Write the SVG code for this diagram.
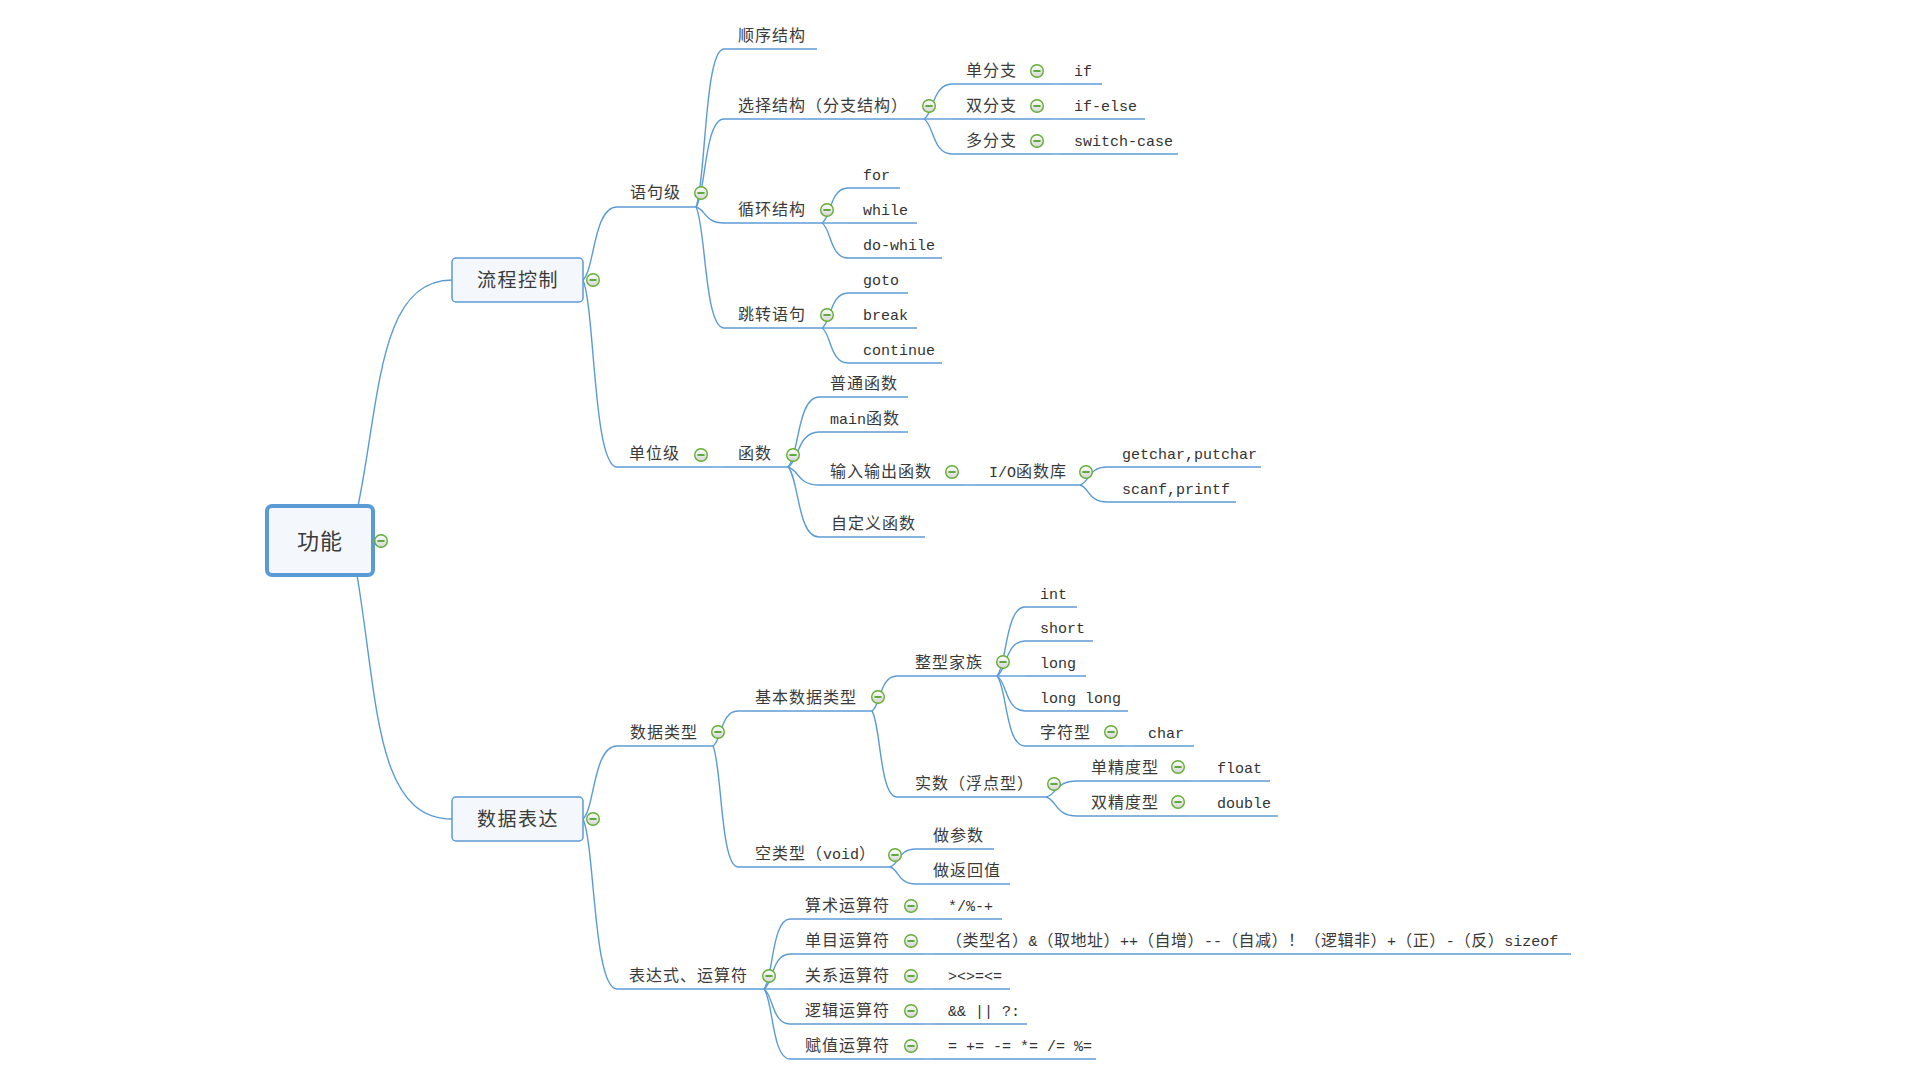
<svg xmlns="http://www.w3.org/2000/svg" xmlns:xlink="http://www.w3.org/1999/xlink" width="1920" height="1080" viewBox="0 0 1920 1080">
<style>
.t{font-family:"Noto Sans CJK SC","Noto Sans",sans-serif;font-size:16px;letter-spacing:1px;fill:#3a3a3a}
.m{font-family:"Liberation Mono","DejaVu Sans Mono",monospace;font-size:15px;letter-spacing:0px;fill:#333333}
.bt{font-family:"Noto Sans CJK SC",sans-serif;font-size:19px;letter-spacing:1.5px;fill:#3a3a3a;text-anchor:middle}
.rt{font-family:"Noto Sans CJK SC",sans-serif;font-size:22px;letter-spacing:1px;fill:#3a3a3a;text-anchor:middle}
.u{stroke:#5b9bd5;stroke-width:1.5;fill:none}
.c{stroke:#5b9bd5;stroke-width:1.4;fill:none}
.box{fill:#f4f8fc;stroke:#5b9bd5;stroke-width:1.5}
.root{fill:#f4f8fc;stroke:#5b9bd5;stroke-width:4}
</style>
<defs>
<linearGradient id="cg" x1="0" y1="0" x2="0" y2="1">
<stop offset="0" stop-color="#ffffff"/>
<stop offset="1" stop-color="#d4d4d4"/>
</linearGradient>
<g id="col">
<circle r="6.3" fill="url(#cg)" stroke="#63ad32" stroke-width="1.4"/>
<line x1="-3.6" y1="0" x2="3.6" y2="0" stroke="#3d9a16" stroke-width="1.6"/>
</g>
</defs>
<rect width="1920" height="1080" fill="#ffffff"/>

<g id="connectors">
<path class="c" d="M358,506 C380,400 378,280 452,280"/>
<path class="c" d="M357,575 C378,700 375,819 452,819"/>
<path class="c" d="M583,280 C594.9,269 593.2,207 617,207"/>
<path class="c" d="M583,280 C594.9,308 593.2,467 617,467"/>
<path class="c" d="M696,207 C705.8,183.3 704.4,49 724,49"/>
<path class="c" d="M696,207 C705.8,193.8 704.4,119 724,119"/>
<path class="c" d="M696,207 C705.8,209.4 704.4,223 724,223"/>
<path class="c" d="M696,207 C705.8,225.2 704.4,328 724,328"/>
<path class="c" d="M924,119 C933.8,113.75 932.4,84 952,84"/>
<path class="c" d="M924,119 L952,119"/>
<path class="c" d="M924,119 C933.8,124.25 932.4,154 952,154"/>
<path class="c" d="M1052,84 L1060,84"/>
<path class="c" d="M1052,119 L1060,119"/>
<path class="c" d="M1052,154 L1060,154"/>
<path class="c" d="M822,223 C831.1,217.75 829.8,188 848,188"/>
<path class="c" d="M822,223 L848,223"/>
<path class="c" d="M822,223 C831.1,228.25 829.8,258 848,258"/>
<path class="c" d="M822,328 C831.1,322.75 829.8,293 848,293"/>
<path class="c" d="M822,328 L848,328"/>
<path class="c" d="M822,328 C831.1,333.25 829.8,363 848,363"/>
<path class="c" d="M712,467 L724,467"/>
<path class="c" d="M788,467 C798.85,456.5 797.3,397 819,397"/>
<path class="c" d="M788,467 C798.85,461.75 797.3,432 819,432"/>
<path class="c" d="M788,467 C798.85,469.7 797.3,485 819,485"/>
<path class="c" d="M788,467 C798.85,477.5 797.3,537 819,537"/>
<path class="c" d="M964,485 L975,485"/>
<path class="c" d="M1080,485 C1089.45,482.3 1088.1,467 1107,467"/>
<path class="c" d="M1080,485 C1089.45,487.55 1088.1,502 1107,502"/>
<path class="c" d="M583,819 C594.9,808.05 593.2,746 617,746"/>
<path class="c" d="M583,819 C594.9,844.5 593.2,989 617,989"/>
<path class="c" d="M713,746 C721.75,740.75 720.5,711 738,711"/>
<path class="c" d="M713,746 C721.75,764.15 720.5,867 738,867"/>
<path class="c" d="M872,711 C880.75,705.75 879.5,676 897,676"/>
<path class="c" d="M872,711 C880.75,723.9 879.5,797 897,797"/>
<path class="c" d="M997,676 C1006.8,665.65 1005.4,607 1025,607"/>
<path class="c" d="M997,676 C1006.8,670.75 1005.4,641 1025,641"/>
<path class="c" d="M997,676 L1025,676"/>
<path class="c" d="M997,676 C1006.8,681.25 1005.4,711 1025,711"/>
<path class="c" d="M997,676 C1006.8,686.5 1005.4,746 1025,746"/>
<path class="c" d="M1124,746 L1134,746"/>
<path class="c" d="M1046,797 C1056.85,794.6 1055.3,781 1077,781"/>
<path class="c" d="M1046,797 C1056.85,799.85 1055.3,816 1077,816"/>
<path class="c" d="M1190,781 L1200,781"/>
<path class="c" d="M1190,816 L1200,816"/>
<path class="c" d="M890,867 C899.1,864.3 897.8,849 916,849"/>
<path class="c" d="M890,867 C899.1,869.55 897.8,884 916,884"/>
<path class="c" d="M764,989 C773.1,978.5 771.8,919 790,919"/>
<path class="c" d="M764,989 C773.1,983.75 771.8,954 790,954"/>
<path class="c" d="M764,989 L790,989"/>
<path class="c" d="M764,989 C773.1,994.25 771.8,1024 790,1024"/>
<path class="c" d="M764,989 C773.1,999.5 771.8,1059 790,1059"/>
<path class="c" d="M924,919 L934,919"/>
<path class="c" d="M924,954 L934,954"/>
<path class="c" d="M924,989 L934,989"/>
<path class="c" d="M924,1024 L934,1024"/>
<path class="c" d="M924,1059 L934,1059"/>
</g>

<g id="n-root">
<rect class="root" x="267" y="506" width="106" height="69" rx="5"/>
<text class="rt" x="320" y="549">功能</text>
<use xlink:href="#col" x="381" y="541"/>
</g>
<g id="n-liucheng">
<rect class="box" x="452" y="258" width="131" height="44" rx="4"/>
<text class="bt" x="518" y="287">流程控制</text>
<use xlink:href="#col" x="593" y="280"/>
</g>
<g id="n-shuju">
<rect class="box" x="452" y="797" width="131" height="44" rx="4"/>
<text class="bt" x="518" y="826">数据表达</text>
<use xlink:href="#col" x="593" y="819"/>
</g>

<g id="n-yuju"><line class="u" x1="617" y1="207" x2="696" y2="207"/><text class="t" x="630" y="198">语句级</text><use xlink:href="#col" x="701" y="193"/></g>
<g id="n-shunxu"><line class="u" x1="724" y1="49" x2="817" y2="49"/><text class="t" x="738" y="40.5">顺序结构</text></g>
<g id="n-xuanze"><line class="u" x1="724" y1="119" x2="924" y2="119"/><text class="t" x="738" y="110.5">选择结构（分支结构）</text><use xlink:href="#col" x="929" y="106"/></g>
<g id="n-dan"><line class="u" x1="952" y1="84" x2="1052" y2="84"/><text class="t" x="966" y="75.5">单分支</text><use xlink:href="#col" x="1037" y="71"/></g>
<g id="n-if"><line class="u" x1="1060" y1="84" x2="1102" y2="84"/><text class="m" x="1074" y="76">if</text></g>
<g id="n-shuang"><line class="u" x1="952" y1="119" x2="1052" y2="119"/><text class="t" x="966" y="110.5">双分支</text><use xlink:href="#col" x="1037" y="106"/></g>
<g id="n-ifelse"><line class="u" x1="1060" y1="119" x2="1145" y2="119"/><text class="m" x="1074" y="111">if-else</text></g>
<g id="n-duo"><line class="u" x1="952" y1="154" x2="1052" y2="154"/><text class="t" x="966" y="145.5">多分支</text><use xlink:href="#col" x="1037" y="141"/></g>
<g id="n-switch"><line class="u" x1="1060" y1="154" x2="1178" y2="154"/><text class="m" x="1074" y="146">switch-case</text></g>
<g id="n-xunhuan"><line class="u" x1="724" y1="223" x2="822" y2="223"/><text class="t" x="738" y="214.5">循环结构</text><use xlink:href="#col" x="827" y="210"/></g>
<g id="n-for"><line class="u" x1="848" y1="188" x2="900" y2="188"/><text class="m" x="863" y="180">for</text></g>
<g id="n-while"><line class="u" x1="848" y1="223" x2="917" y2="223"/><text class="m" x="863" y="215">while</text></g>
<g id="n-dowhile"><line class="u" x1="848" y1="258" x2="942" y2="258"/><text class="m" x="863" y="250">do-while</text></g>
<g id="n-tiaozhuan"><line class="u" x1="724" y1="328" x2="822" y2="328"/><text class="t" x="738" y="319.5">跳转语句</text><use xlink:href="#col" x="827" y="315"/></g>
<g id="n-goto"><line class="u" x1="848" y1="293" x2="908" y2="293"/><text class="m" x="863" y="285">goto</text></g>
<g id="n-break"><line class="u" x1="848" y1="328" x2="917" y2="328"/><text class="m" x="863" y="320">break</text></g>
<g id="n-continue"><line class="u" x1="848" y1="363" x2="942" y2="363"/><text class="m" x="863" y="355">continue</text></g>

<g id="n-danwei"><line class="u" x1="617" y1="467" x2="712" y2="467"/><text class="t" x="629" y="458.5">单位级</text><use xlink:href="#col" x="701" y="455"/></g>
<g id="n-hanshu"><line class="u" x1="724" y1="467" x2="788" y2="467"/><text class="t" x="738" y="458.5">函数</text><use xlink:href="#col" x="793" y="455"/></g>
<g id="n-putong"><line class="u" x1="819" y1="397" x2="908" y2="397"/><text class="t" x="830" y="388.5">普通函数</text></g>
<g id="n-main"><line class="u" x1="819" y1="432" x2="908" y2="432"/><text class="t" x="830" y="423.5"><tspan class="m">main</tspan>函数</text></g>
<g id="n-io"><line class="u" x1="819" y1="485" x2="964" y2="485"/><text class="t" x="830" y="476.5">输入输出函数</text><use xlink:href="#col" x="952" y="472"/></g>
<g id="n-iolib"><line class="u" x1="975" y1="485" x2="1080" y2="485"/><text class="t" x="989" y="476.5"><tspan class="m">I/O</tspan>函数库</text><use xlink:href="#col" x="1086" y="472"/></g>
<g id="n-getchar"><line class="u" x1="1107" y1="467" x2="1261" y2="467"/><text class="m" x="1122" y="459">getchar,putchar</text></g>
<g id="n-scanf"><line class="u" x1="1107" y1="502" x2="1236" y2="502"/><text class="m" x="1122" y="494">scanf,printf</text></g>
<g id="n-zidingyi"><line class="u" x1="819" y1="537" x2="925" y2="537"/><text class="t" x="831" y="528.5">自定义函数</text></g>

<g id="n-shujuleixing"><line class="u" x1="617" y1="746" x2="713" y2="746"/><text class="t" x="630" y="737.5">数据类型</text><use xlink:href="#col" x="718" y="732"/></g>
<g id="n-jiben"><line class="u" x1="738" y1="711" x2="872" y2="711"/><text class="t" x="755" y="702.5">基本数据类型</text><use xlink:href="#col" x="878" y="697"/></g>
<g id="n-zhengxing"><line class="u" x1="897" y1="676" x2="997" y2="676"/><text class="t" x="915" y="667.5">整型家族</text><use xlink:href="#col" x="1003" y="662"/></g>
<g id="n-int"><line class="u" x1="1025" y1="607" x2="1077" y2="607"/><text class="m" x="1040" y="599">int</text></g>
<g id="n-short"><line class="u" x1="1025" y1="641" x2="1093" y2="641"/><text class="m" x="1040" y="633">short</text></g>
<g id="n-long"><line class="u" x1="1025" y1="676" x2="1086" y2="676"/><text class="m" x="1040" y="668">long</text></g>
<g id="n-longlong"><line class="u" x1="1025" y1="711" x2="1128" y2="711"/><text class="m" x="1040" y="703">long long</text></g>
<g id="n-zifu"><line class="u" x1="1025" y1="746" x2="1124" y2="746"/><text class="t" x="1040" y="737.5">字符型</text><use xlink:href="#col" x="1111" y="732"/></g>
<g id="n-char"><line class="u" x1="1134" y1="746" x2="1194" y2="746"/><text class="m" x="1148" y="738">char</text></g>
<g id="n-shishu"><line class="u" x1="897" y1="797" x2="1046" y2="797"/><text class="t" x="915" y="788.5">实数（浮点型）</text><use xlink:href="#col" x="1054" y="784"/></g>
<g id="n-danjingdu"><line class="u" x1="1077" y1="781" x2="1190" y2="781"/><text class="t" x="1091" y="772.5">单精度型</text><use xlink:href="#col" x="1178" y="767"/></g>
<g id="n-float"><line class="u" x1="1200" y1="781" x2="1270" y2="781"/><text class="m" x="1217" y="773">float</text></g>
<g id="n-shuangjingdu"><line class="u" x1="1077" y1="816" x2="1190" y2="816"/><text class="t" x="1091" y="807.5">双精度型</text><use xlink:href="#col" x="1178" y="802"/></g>
<g id="n-double"><line class="u" x1="1200" y1="816" x2="1278" y2="816"/><text class="m" x="1217" y="808">double</text></g>
<g id="n-void"><line class="u" x1="738" y1="867" x2="890" y2="867"/><text class="t" x="755" y="858.5">空类型（<tspan class="m">void</tspan>）</text><use xlink:href="#col" x="895" y="855"/></g>
<g id="n-canshu"><line class="u" x1="916" y1="849" x2="994" y2="849"/><text class="t" x="933" y="840.5">做参数</text></g>
<g id="n-fanhui"><line class="u" x1="916" y1="884" x2="1010" y2="884"/><text class="t" x="933" y="875.5">做返回值</text></g>

<g id="n-biaodashi"><line class="u" x1="617" y1="989" x2="764" y2="989"/><text class="t" x="629" y="980.5">表达式、运算符</text><use xlink:href="#col" x="769" y="976"/></g>
<g id="n-suanshu"><line class="u" x1="790" y1="919" x2="924" y2="919"/><text class="t" x="805" y="910.5">算术运算符</text><use xlink:href="#col" x="911" y="906"/></g>
<g id="n-suanshu-s"><line class="u" x1="934" y1="919" x2="1002" y2="919"/><text class="m" x="948" y="911">*/%-+</text></g>
<g id="n-danmu"><line class="u" x1="790" y1="954" x2="924" y2="954"/><text class="t" x="805" y="945.5">单目运算符</text><use xlink:href="#col" x="911" y="941"/></g>
<g id="n-danmu-s"><line class="u" x1="934" y1="954" x2="1571" y2="954"/><text class="t" x="946" y="945.5" style="letter-spacing:0.5px">（类型名）<tspan class="m">&amp;</tspan>（取地址）<tspan class="m">++</tspan>（自增）<tspan class="m">--</tspan>（自减）！（逻辑非）<tspan class="m">+</tspan>（正）<tspan class="m">-</tspan>（反）<tspan class="m">sizeof</tspan></text></g>
<g id="n-guanxi"><line class="u" x1="790" y1="989" x2="924" y2="989"/><text class="t" x="805" y="980.5">关系运算符</text><use xlink:href="#col" x="911" y="976"/></g>
<g id="n-guanxi-s"><line class="u" x1="934" y1="989" x2="1010" y2="989"/><text class="m" x="948" y="981">&gt;&lt;&gt;=&lt;=</text></g>
<g id="n-luoji"><line class="u" x1="790" y1="1024" x2="924" y2="1024"/><text class="t" x="805" y="1015.5">逻辑运算符</text><use xlink:href="#col" x="911" y="1011"/></g>
<g id="n-luoji-s"><line class="u" x1="934" y1="1024" x2="1027" y2="1024"/><text class="m" x="948" y="1016">&amp;&amp; || ?:</text></g>
<g id="n-fuzhi"><line class="u" x1="790" y1="1059" x2="924" y2="1059"/><text class="t" x="805" y="1050.5">赋值运算符</text><use xlink:href="#col" x="911" y="1046"/></g>
<g id="n-fuzhi-s"><line class="u" x1="934" y1="1059" x2="1096" y2="1059"/><text class="m" x="948" y="1051">= += -= *= /= %=</text></g>
</svg>
